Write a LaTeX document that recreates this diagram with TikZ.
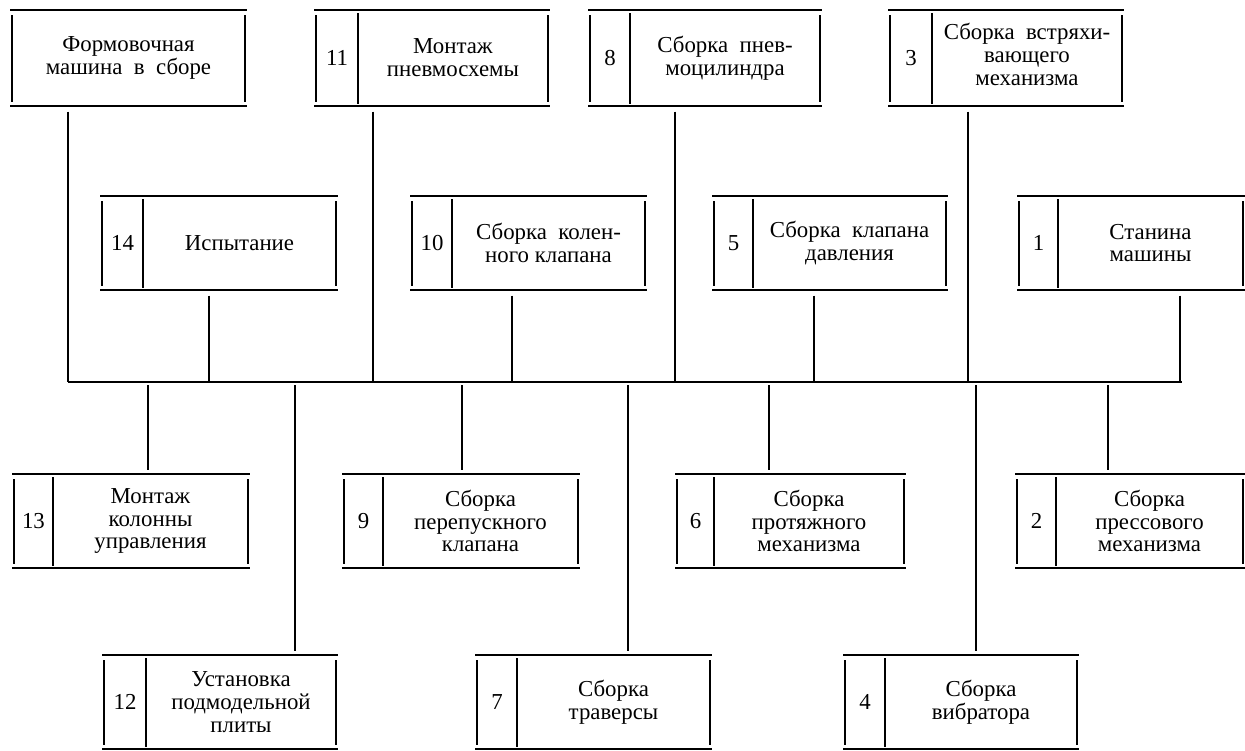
\documentclass[tikz,border=0pt]{standalone}
\usepackage{fontspec}
\setmainfont{Liberation Serif}
\usetikzlibrary{fit}
\tikzset{
  frame/.style={line width=1.1pt, line cap=butt},
  conn/.style={line width=1.1pt},
  lbl/.style={align=center, inner sep=0pt, font=\fontsize{13}{13}\selectfont},
  num/.style={inner sep=0pt, font=\fontsize{13}{13}\selectfont},
  area/.style={inner sep=0pt, draw=none}
}
% [text options], name, x1, y1, x2, y2, xdiv, number, text
\newcommand\opbox[9][]{%
  \node[area, fit={(#3,#4) (#5,#6)}] (#2) {};
  \draw[frame] (#3-2,#4) -- (#5+2,#4);
  \draw[frame] (#3-2,#6) -- (#5+2,#6);
  \draw[frame] (#3,#4+5) -- (#3,#6-4);
  \draw[frame] (#5,#4+5) -- (#5,#6-4);
  \draw[frame] (#7,#4+3) -- (#7,#6-2);
  \node[num] (#2n) at ({(#3+#7)/2},{(#4+#6)/2}) {#8};
  \node[lbl,#1] (#2t) at ({(#7+#5)/2},{(#4+#6)/2}) {#9};
}
\newcommand\plainbox[6]{%
  \node[area, fit={(#2,#3) (#4,#5)}] (#1) {};
  \draw[frame] (#2-2,#3) -- (#4+2,#3);
  \draw[frame] (#2-2,#5) -- (#4+2,#5);
  \draw[frame] (#2,#3+5) -- (#2,#5-4);
  \draw[frame] (#4,#3+5) -- (#4,#5-4);
  \node[lbl] (#1t) at ({(#2+#4)/2},{(#3+#5)/2}) {#6};
}
\begin{document}
\begin{tikzpicture}[x=0.02cm, y=-0.02cm]
\useasboundingbox (0,0) rectangle (1245,751);
% row 1
\plainbox{b0}{12}{10}{245}{106}{Формовочная\\машина\ \ в\ \ сборе}
\opbox{b11}{316}{10}{548}{106}{358}{11}{Монтаж\\пневмосхемы}
\opbox{b8}{590}{10}{820}{106}{630}{8}{Сборка\ \ пнев-\\моцилиндра}
\opbox[yshift=2pt]{b3}{890}{10}{1122}{106}{932}{3}{Сборка\ \ встряхи-\\вающего\\механизма}
% row 2
\opbox{b14}{102}{196}{336}{290}{143}{14}{Испытание}
\opbox{b10}{412}{196}{645}{290}{452}{10}{Сборка\ \ колен-\\ного клапана}
\opbox{b5}{714}{196}{946}{290}{753}{5}{Сборка\ \ клапана\\давления}
\opbox{b1}{1019}{196}{1243}{290}{1058}{1}{Станина\\машины}
% row 3
\opbox{b13}{14}{474}{248}{568}{53}{13}{Монтаж\\колонны\\управления}
\opbox{b9}{344}{474}{578}{568}{383}{9}{Сборка\\перепускного\\клапана}
\opbox{b6}{677}{474}{904}{568}{714}{6}{Сборка\\протяжного\\механизма}
\opbox{b2}{1017}{474}{1243}{568}{1056}{2}{Сборка\\прессового\\механизма}
% row 4
\opbox{b12}{104}{655}{336}{749}{146}{12}{Установка\\подмодельной\\плиты}
\opbox{b7}{477}{655}{710}{749}{517}{7}{Сборка\\траверсы}
\opbox{b4}{845}{655}{1077}{749}{885}{4}{Сборка\\вибратора}
% bus
\coordinate (busL) at (68,382);
\coordinate (busR) at (1182,382);
\draw[conn] (busL) -- (busR);
% upper connectors
\coordinate (u0) at (68,382);
\coordinate (u11) at (373,382);
\coordinate (u8) at (675,382);
\coordinate (u3) at (968,382);
\coordinate (u14) at (209,382);
\coordinate (u10) at (512,382);
\coordinate (u5) at (814,382);
\coordinate (u1) at (1180,382);
\foreach \b/\u in {b0/u0,b11/u11,b8/u8,b3/u3,b14/u14,b10/u10,b5/u5,b1/u1}
  \draw[conn] ([yshift=-3pt]\u |- \b.south) -- (\u);
% lower connectors
\coordinate (d13) at (148,385);
\coordinate (d9) at (462,385);
\coordinate (d6) at (769,385);
\coordinate (d2) at (1108,385);
\coordinate (d12) at (295,385);
\coordinate (d7) at (628,385);
\coordinate (d4) at (976,385);
\foreach \b/\d in {b13/d13,b9/d9,b6/d6,b2/d2,b12/d12,b7/d7,b4/d4}
  \draw[conn] (\d) -- ([yshift=2pt]\d |- \b.north);
\end{tikzpicture}
\end{document}
